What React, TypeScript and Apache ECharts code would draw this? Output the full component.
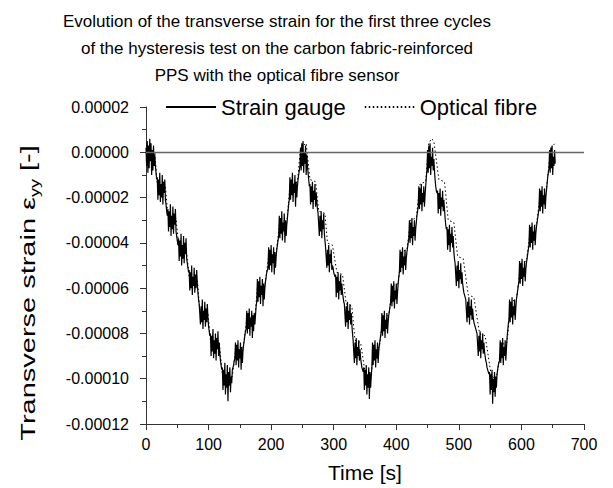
import React, { useEffect, useRef } from 'react';
import * as echarts from 'echarts';

const FONT = '"Liberation Sans", Arial, Helvetica, sans-serif';

const titleLines = [
  'Evolution of the transverse strain for the first three cycles',
  'of the hysteresis test on the carbon fabric-reinforced',
  'PPS with the optical fibre sensor',
];

const seriesNames = ['Strain gauge', 'Optical fibre'];
const xAxisName = 'Time [s]';
const yAxisName = 'Transverse strain ε{sub|yy} [-]';

const xMin = 0;
const xMax = 700;
const xStep = 100;
const yMin = -0.00012;
const yMax = 0.00002;
const yStep = 0.00002;

// strain gauge: [start time (s), samples every 1 s in microstrain]
const gaugeCycle1: [number, number[]][] = [
  [0, [2, -6, 5, -9, 3, -7, 6, -4, 4, -10, 1, -8, 3, -6, -1, -6, -9, -12]],
  [18, [-11, -21, -12, -19, -9, -22, -14, -20, -10, -23, -13, -18, -12, -21, -23, -26, -28]],
  [35, [-25, -35, -26, -33, -23, -37, -28, -34, -24, -36, -27, -32, -25, -35, -37, -39, -41]],
  [52, [-38, -48, -39, -46, -36, -50, -41, -47, -37, -49, -40, -45, -38, -47, -49, -51, -53]],
  [69, [-52, -61, -53, -60, -50, -63, -55, -59, -51, -62, -54, -60, -52, -58, -62, -65, -67]],
  [86, [-67, -76, -68, -75, -65, -78, -70, -74, -66, -77, -69, -75, -67, -73, -77, -79, -81]],
  [103, [-80, -90, -81, -88, -78, -91, -83, -89, -80, -92, -82, -87, -79, -90, -84, -89, -92, -94, -96]],
  [122, [-95, -105, -96, -103, -93, -107, -98, -104, -94, -110, -97, -103, -95, -106, -99, -102, -96, -95, -94, -92, -91]],
  [143, [-84, -94, -85, -92, -83, -95, -87, -91, -84, -96, -86, -93, -88, -85, -83, -81, -79, -78]],
  [161, [-70, -80, -71, -78, -69, -81, -73, -77, -70, -82, -72, -79, -71, -76, -72, -68, -66]],
  [178, [-56, -66, -57, -64, -55, -67, -59, -63, -56, -68, -58, -65, -60, -57, -55, -53, -52, -51]],
  [196, [-42, -52, -43, -50, -41, -53, -45, -49, -42, -54, -44, -51, -46, -43, -41, -39, -37]],
  [213, [-28, -38, -29, -36, -26, -39, -31, -35, -27, -40, -30, -37, -32, -29, -26, -23, -21]],
  [230, [-11, -21, -12, -19, -9, -22, -14, -18, -10, -24, -13, -20, -15, -12, -10, -8, -6]],
];

const gaugeCycle2: [number, number[]][] = [
  [247, [2, -8, 4, -6, 5, -9, 0, -5, 3, -10, -1, -6, -9, -12, -15]],
  [262, [-14, -23, -15, -22, -13, -25, -17, -21, -14, -24, -18, -22, -25, -27]],
  [276, [-27, -37, -28, -35, -26, -38, -30, -34, -27, -36, -39, -42]],
  [288, [-42, -51, -43, -50, -41, -53, -45, -49, -43, -52, -50, -51, -53, -54, -55]],
  [303, [-54, -64, -55, -62, -53, -65, -57, -61, -54, -63, -58, -62, -64, -66, -67]],
  [318, [-67, -77, -68, -75, -66, -78, -70, -74, -67, -76, -71, -76, -80, -83]],
  [332, [-83, -93, -84, -91, -82, -94, -86, -90, -83, -92, -87, -91, -93, -95, -96, -97]],
  [348, [-95, -105, -96, -103, -94, -107, -98, -104, -95, -109, -97, -104, -99, -95]],
  [362, [-84, -94, -85, -92, -83, -95, -87, -91, -84, -93, -88, -85, -83, -81, -79]],
  [377, [-71, -81, -72, -79, -70, -82, -74, -78, -71, -80, -75, -72, -70, -68, -66]],
  [392, [-58, -68, -59, -66, -57, -69, -61, -65, -58, -67, -62, -58, -55, -53]],
  [406, [-43, -53, -44, -51, -42, -54, -46, -50, -43, -52, -47, -44, -42, -40, -38]],
  [421, [-30, -40, -31, -38, -29, -41, -33, -37, -30, -39, -34, -31, -28, -26, -24]],
  [436, [-15, -25, -16, -23, -14, -26, -18, -22, -15, -24, -19, -15, -11, -8]],
];

const gaugeCycle3: [number, number[]][] = [
  [450, [1, -9, 3, -7, 4, -10, -2, -6, 2, -8, -3, -8, -12, -15, -17, -18]],
  [466, [-17, -27, -18, -25, -16, -28, -20, -24, -17, -26, -21, -25, -29, -32, -34]],
  [481, [-33, -43, -34, -41, -32, -44, -36, -40, -33, -42, -37, -44, -47, -49]],
  [495, [-49, -59, -50, -57, -48, -60, -52, -56, -49, -58, -53, -58, -60, -62, -63, -64, -65]],
  [512, [-65, -75, -66, -73, -64, -76, -68, -72, -65, -74, -69, -73, -75, -76, -77, -78, -79, -80]],
  [530, [-80, -90, -81, -88, -79, -91, -83, -87, -80, -89, -84, -88, -90, -92, -93, -95, -96, -97, -98]],
  [549, [-97, -107, -98, -105, -96, -111, -100, -106, -97, -108, -99, -104, -98, -96, -94, -93, -92]],
  [566, [-83, -93, -84, -91, -82, -94, -86, -90, -83, -92, -87, -82, -79, -76, -74]],
  [581, [-65, -75, -66, -73, -64, -76, -68, -72, -65, -74, -69, -65, -63, -61, -59, -57]],
  [597, [-48, -58, -49, -56, -47, -59, -51, -55, -48, -57, -52, -49, -47, -45, -43, -41]],
  [613, [-32, -42, -33, -40, -31, -43, -35, -39, -32, -41, -36, -33, -31, -29, -27, -25]],
  [629, [-16, -26, -17, -24, -15, -27, -19, -23, -16, -25, -20, -17, -14, -11, -9, -7]],
  [645, [1, -9, 2, -7, 3, -10, -2, -6, 1, -5]],
];

// optical fibre: [time (s), microstrain] break points
const fibreCycle1: [number, number][] = [
  [0, 3], [14, 0], [18, -14], [31, -15], [35, -28], [48, -29], [52, -41], [64, -42],
  [69, -55], [82, -56], [86, -70], [99, -71], [103, -83], [117, -84], [122, -98], [138, -99],
  [143, -88], [155, -87], [161, -74], [174, -73], [178, -60], [190, -59], [196, -46], [208, -45],
  [213, -32], [225, -31], [230, -15], [242, -13], [247, 2], [256, 4],
];
const fibreCycle2: [number, number][] = [
  [262, -12], [271, -13], [276, -26], [286, -27], [290, -40], [298, -41], [305, -53], [314, -54],
  [320, -67], [329, -68], [334, -83], [343, -84], [350, -97], [360, -98], [364, -87], [373, -86],
  [379, -73], [388, -72], [394, -59], [403, -58], [408, -44], [417, -43], [423, -30], [432, -29],
  [438, -14], [447, -13], [452, 4], [456, 6], [460, 5],
];
const fibreCycle3: [number, number][] = [
  [468, -12], [477, -13], [483, -30], [492, -31], [498, -46], [507, -47], [515, -63], [524, -64],
  [533, -80], [542, -81], [552, -99], [560, -100], [568, -85], [577, -84], [583, -66], [592, -65],
  [599, -49], [608, -48], [615, -33], [624, -32], [631, -17], [640, -16], [647, 2], [654, 4],
];

const MICRO = 1e-6;

function App() {
  const ref = useRef<HTMLDivElement>(null);

  useEffect(() => {
    if (!ref.current) return;
    const chart = echarts.init(ref.current, null, { renderer: 'svg' });

    const gaugeData: [number, number][] = [];
    [...gaugeCycle1, ...gaugeCycle2, ...gaugeCycle3].forEach(([t0, vals]) => {
      vals.forEach((v, i) => gaugeData.push([t0 + i, v * MICRO]));
    });
    const fibreData = [...fibreCycle1, ...fibreCycle2, ...fibreCycle3].map(
      ([t, v]) => [t, v * MICRO]
    );

    const axisColor = '#333';
    const axisLine = { show: true, onZero: false, lineStyle: { color: axisColor, width: 1 } };

    chart.setOption({
      animation: false,
      backgroundColor: '#ffffff',
      textStyle: { fontFamily: FONT, color: '#000' },
      title: {
        text: titleLines.join('\n'),
        left: 277,
        top: 8,
        padding: 0,
        textAlign: 'center',
        textStyle: {
          fontFamily: FONT,
          fontSize: 17,
          fontWeight: 'normal',
          color: '#000',
          lineHeight: 27,
        },
      },
      legend: {
        data: seriesNames,
        left: 165,
        top: 96,
        padding: 0,
        itemWidth: 50,
        itemHeight: 14,
        itemGap: 18,
        itemStyle: { opacity: 0, borderWidth: 0 },
        textStyle: { fontFamily: FONT, fontSize: 22, color: '#000' },
      },
      graphic: [
        {
          type: 'text',
          x: 28,
          y: 293,
          rotation: Math.PI / 2,
          scaleX: 1.38,
          scaleY: 1,
          silent: true,
          style: {
            text: yAxisName,
            fontFamily: FONT,
            fontSize: 21,
            fill: '#000',
            align: 'center',
            verticalAlign: 'middle',
            rich: {
              sub: {
                fontFamily: FONT,
                fontSize: 13,
                fill: '#000',
                verticalAlign: 'bottom',
                padding: [12, 0, 0, 0],
              },
            },
          },
        },
      ],
      grid: { left: 146, right: 29, top: 107, bottom: 61, containLabel: false },
      xAxis: {
        type: 'value',
        min: xMin,
        max: xMax,
        interval: xStep,
        axisLine,
        axisTick: { show: true, inside: false, length: 6, lineStyle: { color: axisColor } },
        minorTick: { show: true, splitNumber: 2, length: 4, lineStyle: { color: axisColor } },
        splitLine: { show: false },
        axisLabel: { fontFamily: FONT, fontSize: 16, color: '#000', margin: 12 },
        name: xAxisName,
        nameLocation: 'middle',
        nameGap: 38,
        nameTextStyle: { fontFamily: FONT, fontSize: 21, color: '#000' },
      },
      yAxis: {
        type: 'value',
        min: yMin,
        max: yMax,
        interval: yStep,
        axisLine,
        axisTick: { show: true, inside: false, length: 6, lineStyle: { color: axisColor } },
        minorTick: { show: true, splitNumber: 2, length: 4, lineStyle: { color: axisColor } },
        splitLine: { show: false },
        axisLabel: {
          fontFamily: FONT,
          fontSize: 16,
          color: '#000',
          margin: 17,
          formatter: (v: number) => (Math.abs(v) < 1e-12 ? '0.00000' : v.toFixed(5)),
        },
      },
      series: [
        {
          name: seriesNames[1],
          type: 'line',
          data: fibreData,
          symbol: 'none',
          z: 2,
          lineStyle: { color: '#000', width: 1, type: [1.5, 2.5] },
          itemStyle: { color: '#000' },
        },
        {
          name: seriesNames[0],
          type: 'line',
          data: gaugeData,
          symbol: 'none',
          z: 3,
          lineStyle: { color: '#000', width: 1.2 },
          itemStyle: { color: '#000' },
          markLine: {
            silent: true,
            symbol: 'none',
            label: { show: false },
            lineStyle: { color: '#666', width: 1.3, type: 'solid' },
            data: [{ yAxis: 0 }],
          },
        },
      ],
    });

    return () => chart.dispose();
  }, []);

  return (
    <div
      ref={ref}
      style={{ position: 'fixed', left: 0, top: 0, width: 613, height: 488, background: '#fff' }}
    />
  );
}

export default App;
